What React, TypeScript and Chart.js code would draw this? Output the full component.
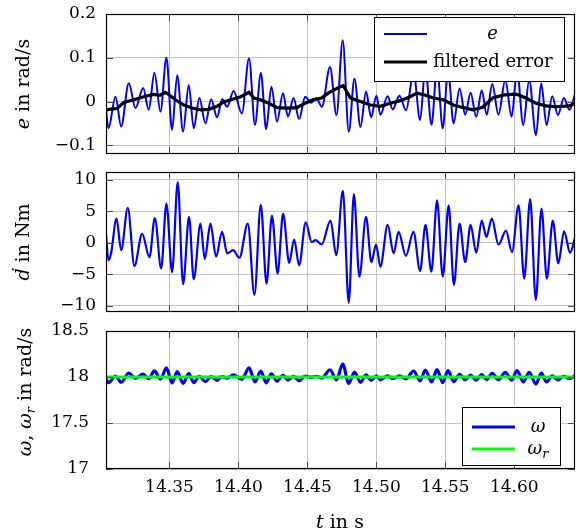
import React, { useEffect, useRef } from 'react';
import { Chart, registerables } from 'chart.js';

Chart.register(...registerables);

// ---------------- data ----------------
const X_MIN = 14.304;
const X_MAX = 14.644;
const xTicks = [14.35, 14.4, 14.45, 14.5, 14.55, 14.6];

// error e (rad/s), extrema
const eTime = [
  14.304, 14.3058, 14.3109, 14.315, 14.3205, 14.3254, 14.3309, 14.335, 14.3391, 14.3435,
  14.3478, 14.3519, 14.3556, 14.3599, 14.364, 14.3676, 14.3717, 14.3761, 14.3802, 14.3845,
  14.3882, 14.3918, 14.3965, 14.4025, 14.4077, 14.412, 14.4163, 14.4201, 14.4239, 14.428,
  14.4323, 14.4359, 14.44, 14.444, 14.4484, 14.4527, 14.4565, 14.4605, 14.4664, 14.4711,
  14.4756, 14.48, 14.4841, 14.4885, 14.4925, 14.4962, 14.5, 14.5029, 14.5082, 14.5118,
  14.5167, 14.5215, 14.527, 14.5317, 14.5355, 14.54, 14.544, 14.5481, 14.552, 14.556,
  14.5603, 14.5644, 14.5683, 14.5724, 14.5764, 14.58, 14.584, 14.5885, 14.5935, 14.598,
  14.602, 14.6065, 14.6108, 14.6157, 14.6195, 14.6234, 14.6275, 14.6316, 14.636, 14.64,
  14.6442,
];
const eVal = [
  -0.02, -0.061, 0.011, -0.057, 0.042, -0.015, 0.031, -0.019, 0.066, -0.023,
  0.1, -0.065, 0.06, -0.069, 0.038, -0.061, 0.008, -0.05, 0.005, -0.036,
  0.005, -0.012, 0.024, -0.027, 0.099, -0.053, 0.065, -0.063, 0.034, -0.046,
  0.019, -0.034, 0.008, -0.04, 0.011, -0.003, 0.008, -0.012, 0.079, -0.031,
  0.14, -0.069, 0.052, -0.058, 0.023, -0.036, 0.013, -0.03, 0.012, -0.018,
  0.013, -0.02, 0.065, -0.042, 0.075, -0.053, 0.08, -0.061, 0.07, -0.05,
  0.03, -0.03, 0.02, -0.035, 0.025, -0.03, 0.04, -0.03, 0.05, -0.035,
  0.07, -0.054, 0.05, -0.077, 0.042, -0.054, 0.012, -0.031, 0.008, -0.019,
  0.019,
];

// filtered error
const fTime = [
  14.304, 14.3085, 14.3121, 14.3169, 14.3241, 14.3314, 14.3387, 14.343, 14.3471, 14.3507,
  14.3543, 14.3604, 14.3664, 14.3725, 14.3785, 14.3846, 14.3894, 14.3957, 14.4017, 14.4077,
  14.4112, 14.416, 14.422, 14.428, 14.4351, 14.4423, 14.4483, 14.4543, 14.4602, 14.465,
  14.4698, 14.4734, 14.476, 14.479, 14.4812, 14.4885, 14.4957, 14.5029, 14.5101, 14.5173,
  14.5245, 14.5293, 14.5353, 14.5413, 14.5486, 14.5558, 14.562, 14.5698, 14.5771, 14.5843,
  14.5928, 14.6012, 14.6085, 14.6157, 14.623, 14.6302, 14.6398, 14.6442,
];
const fVal = [
  -0.019, -0.017, -0.016, -0.002, 0.004, 0.011, 0.016, 0.014, 0.021, 0.013,
  0.004, -0.008, -0.015, -0.019, -0.018, -0.011, -0.001, 0.005, 0.011, 0.021,
  0.008, 0.004, -0.004, -0.014, -0.015, -0.014, -0.004, 0.004, 0.008, 0.019,
  0.027, 0.033, 0.036, 0.02, 0.008, 0.0, -0.008, -0.011, -0.004, 0.002,
  0.011, 0.019, 0.015, 0.008, 0.004, -0.008, -0.013, -0.019, -0.013, 0.008,
  0.015, 0.017, 0.008, -0.004, -0.01, -0.012, -0.01, -0.004,
];

// disturbance d-dot (Nm)
const dTime = [
  14.304, 14.3058, 14.3077, 14.3116, 14.315, 14.3198, 14.3246, 14.3302, 14.3355, 14.3394,
  14.344, 14.3478, 14.3519, 14.356, 14.3599, 14.3642, 14.3676, 14.3725, 14.3756, 14.3797,
  14.3838, 14.3882, 14.3918, 14.3961, 14.4007, 14.4068, 14.4116, 14.4162, 14.4204, 14.4243,
  14.4284, 14.4324, 14.4368, 14.4404, 14.444, 14.4488, 14.4531, 14.456, 14.4603, 14.4668,
  14.4709, 14.4757, 14.48, 14.4837, 14.4877, 14.4925, 14.4964, 14.4998, 14.5029, 14.5082,
  14.5125, 14.5161, 14.5214, 14.5269, 14.5317, 14.5356, 14.5399, 14.544, 14.5481, 14.5524,
  14.5562, 14.5603, 14.5644, 14.5683, 14.5724, 14.5764, 14.5798, 14.5837, 14.5885, 14.594,
  14.5983, 14.6031, 14.6072, 14.6115, 14.6156, 14.6197, 14.6236, 14.6279, 14.6319, 14.6361,
  14.6404, 14.6442,
];
const dVal = [
  1.4, -2.8, -1.7, 3.8, -1.2, 5.5, -3.7, 1.4, -2.3, 3.9,
  -4.1, 6.2, -4.7, 9.6, -6.6, 4.1, -5.8, 3.0, -2.6, 3.0,
  -2.2, 1.7, -1.7, -1.2, -2.4, 3.0, -8.3, 6.0, -6.5, 4.3,
  -4.9, 4.6, -3.2, 0.5, -3.6, 3.2, 0.1, 0.4, -0.3, 3.5,
  -2.0, 8.2, -9.5, 7.7, -5.4, 4.1, -3.1, -0.3, -3.8, 2.8,
  -1.7, 1.7, -2.1, 1.7, -4.5, 2.8, -4.6, 6.7, -5.4, 5.9,
  -6.7, 3.0, -3.1, 2.8, -1.6, 3.5, 0.9, 3.8, -0.3, 1.9,
  -1.5, 5.9, -5.7, 6.9, -9.1, 5.4, -5.7, 3.5, -3.3, 1.8,
  -1.6, 0.9,
];

// omega (rad/s), sampled at the same instants as e
const wTime = eTime;
const wVal = [
  17.98, 17.939, 18.011, 17.943, 18.042, 17.985, 18.031, 17.981, 18.066, 17.977,
  18.1, 17.935, 18.06, 17.931, 18.038, 17.939, 18.008, 17.95, 18.005, 17.964,
  18.005, 17.988, 18.024, 17.973, 18.099, 17.947, 18.065, 17.937, 18.034, 17.954,
  18.019, 17.966, 18.008, 17.96, 18.011, 17.997, 18.008, 17.988, 18.079, 17.969,
  18.14, 17.931, 18.052, 17.942, 18.023, 17.964, 18.013, 17.97, 18.012, 17.982,
  18.013, 17.98, 18.065, 17.958, 18.075, 17.947, 18.08, 17.939, 18.07, 17.95,
  18.03, 17.97, 18.02, 17.965, 18.025, 17.97, 18.04, 17.97, 18.05, 17.965,
  18.07, 17.946, 18.05, 17.923, 18.042, 17.946, 18.012, 17.969, 18.008, 17.981,
  18.019,
];
// reference omega_r
const wrTime = [14.304, 14.644];
const wrVal = [18, 18];

const yTicks1 = [-0.1, 0, 0.1, 0.2];
const yLabels1 = ['\u22120.1', '0', '0.1', '0.2'];
const yTicks2 = [-10, -5, 0, 5, 10];
const yLabels2 = ['\u221210', '\u22125', '0', '5', '10'];
const yTicks3 = [17, 17.5, 18, 18.5];
const yLabels3 = ['17', '17.5', '18', '18.5'];

// ---------------- styling ----------------
const FONT = '"DejaVu Serif", serif';
const FS = 17;
const TS = 19;
const LS = 18;
const GRID = '#c4c4c4';
const BLUE = '#0000ff';
const GREEN = '#00ff00';

const pts = (t: number[], v: number[]) => t.map((x, i) => ({ x, y: v[i] }));

type Run = { t: string; it?: boolean; sub?: boolean };

function drawRuns(ctx: CanvasRenderingContext2D, runs: Run[], cx: number, cy: number, rot: boolean, size: number) {
  ctx.save();
  ctx.translate(cx, cy);
  if (rot) ctx.rotate(-Math.PI / 2);
  ctx.textBaseline = 'alphabetic';
  ctx.textAlign = 'left';
  ctx.fillStyle = '#000';
  const fontFor = (r: Run) => `${r.it ? 'italic ' : ''}${r.sub ? Math.round(size * 0.7) : size}px ${FONT}`;
  let total = 0;
  for (const r of runs) {
    ctx.font = fontFor(r);
    total += ctx.measureText(r.t).width;
  }
  let x = -total / 2;
  const base = size * 0.36;
  for (const r of runs) {
    ctx.font = fontFor(r);
    ctx.fillText(r.t, x, base + (r.sub ? size * 0.22 : 0));
    x += ctx.measureText(r.t).width;
  }
  ctx.restore();
}

function drawFrame(chart: any) {
  const { ctx, chartArea: a, scales } = chart;
  ctx.save();
  ctx.strokeStyle = '#4a4a4a';
  ctx.lineWidth = 1;
  const TL = 7;
  ctx.beginPath();
  for (const t of scales.y.ticks) {
    const p = Math.round(scales.y.getPixelForValue(t.value)) + 0.5;
    ctx.moveTo(a.left, p);
    ctx.lineTo(a.left + TL, p);
    ctx.moveTo(a.right, p);
    ctx.lineTo(a.right - TL, p);
  }
  for (const t of scales.x.ticks) {
    const p = Math.round(scales.x.getPixelForValue(t.value)) + 0.5;
    ctx.moveTo(p, a.top);
    ctx.lineTo(p, a.top + TL);
    ctx.moveTo(p, a.bottom);
    ctx.lineTo(p, a.bottom - TL);
  }
  ctx.stroke();
  ctx.strokeStyle = '#000';
  ctx.lineWidth = 1.2;
  ctx.strokeRect(Math.round(a.left) + 0.5, Math.round(a.top) + 0.5, Math.round(a.right - a.left) - 1, Math.round(a.bottom - a.top) - 1);
  ctx.restore();
}

function legendLine(ctx: CanvasRenderingContext2D, x0: number, x1: number, y: number, color: string, w: number) {
  ctx.save();
  ctx.strokeStyle = color;
  ctx.lineWidth = w;
  ctx.beginPath();
  ctx.moveTo(x0, y);
  ctx.lineTo(x1, y);
  ctx.stroke();
  ctx.restore();
}

function legendBox(ctx: CanvasRenderingContext2D, x: number, y: number, w: number, h: number) {
  ctx.save();
  ctx.fillStyle = '#fff';
  ctx.fillRect(x, y, w, h);
  ctx.strokeStyle = '#000';
  ctx.lineWidth = 1;
  ctx.strokeRect(x + 0.5, y + 0.5, w - 1, h - 1);
  ctx.restore();
}

function noPad(s: any) {
  s.paddingTop = 0;
  s.paddingBottom = 0;
  s.paddingLeft = 0;
  s.paddingRight = 0;
}

function yAxis(min: number, max: number, ticks: number[], labels: string[], pad: number) {
  return {
    type: 'linear',
    min,
    max,
    afterBuildTicks: (s: any) => {
      s.ticks = ticks.map((v) => ({ value: v }));
    },
    afterFit: (s: any) => {
      s.width = 106;
      noPad(s);
    },
    ticks: {
      autoSkip: false,
      padding: pad,
      color: '#000',
      font: { family: FONT, size: FS },
      callback: (_v: any, i: number) => labels[i],
    },
    grid: { color: GRID, lineWidth: 1, drawTicks: false },
    border: { display: false },
  };
}

function xAxis(show: boolean) {
  return {
    type: 'linear',
    min: X_MIN,
    max: X_MAX,
    afterBuildTicks: (s: any) => {
      s.ticks = xTicks.map((v) => ({ value: v }));
    },
    afterFit: (s: any) => {
      s.height = show ? 62 : 0;
      noPad(s);
    },
    ticks: {
      display: show,
      autoSkip: false,
      maxRotation: 0,
      padding: 8,
      color: '#000',
      font: { family: FONT, size: FS },
      callback: (v: any) => Number(v).toFixed(2),
    },
    grid: { color: GRID, lineWidth: 1, drawTicks: false },
    border: { display: false },
  };
}

function baseOptions(padding: any, scales: any) {
  return {
    responsive: false,
    animation: false,
    devicePixelRatio: 1,
    layout: { padding },
    events: [],
    plugins: { legend: { display: false }, tooltip: { enabled: false } },
    scales,
  };
}

function config1(): any {
  return {
    type: 'line',
    data: {
      datasets: [
        { label: 'filtered error', data: pts(fTime, fVal), borderColor: '#000', borderWidth: 3.2, pointRadius: 0, tension: 0, clip: 0 },
        { label: 'e', data: pts(eTime, eVal), borderColor: BLUE, borderWidth: 2, pointRadius: 0, cubicInterpolationMode: 'monotone', clip: 0 },
      ],
    },
    options: baseOptions({ top: 14, bottom: 11, left: 0, right: 1 }, {
      x: xAxis(false),
      y: yAxis(-0.12, 0.2, yTicks1, yLabels1, 10),
    }),
    plugins: [
      {
        id: 'deco1',
        afterDatasetsDraw(chart: any) {
          const ctx = chart.ctx;
          drawFrame(chart);
          drawRuns(ctx, [{ t: 'e', it: true }, { t: ' in rad/s' }], 22, 84, true, TS);
          legendBox(ctx, 374, 17, 191, 65);
          legendLine(ctx, 384, 427, 34, BLUE, 1.8);
          drawRuns(ctx, [{ t: 'e', it: true }], 492.5, 33, false, LS);
          legendLine(ctx, 384, 427, 62, '#000', 3);
          drawRuns(ctx, [{ t: 'filtered error' }], 493, 61, false, LS);
        },
      },
    ],
  };
}

function config2(): any {
  return {
    type: 'line',
    data: {
      datasets: [
        { label: 'd', data: pts(dTime, dVal), borderColor: BLUE, borderWidth: 2.2, pointRadius: 0, cubicInterpolationMode: 'monotone', clip: 0 },
      ],
    },
    options: baseOptions({ top: 7, bottom: 3, left: 0, right: 1 }, {
      x: xAxis(false),
      y: yAxis(-11, 11.2, yTicks2, yLabels2, 10),
    }),
    plugins: [
      {
        id: 'deco2',
        afterDatasetsDraw(chart: any) {
          drawFrame(chart);
          drawRuns(chart.ctx, [{ t: '\u1E0B', it: true }, { t: ' in Nm' }], 22, 77, true, TS);
        },
      },
    ],
  };
}

function config3(): any {
  return {
    type: 'line',
    data: {
      datasets: [
        { label: '\u03c9r', data: pts(wrTime, wrVal), borderColor: GREEN, borderWidth: 3, pointRadius: 0, tension: 0, clip: 0 },
        { label: '\u03c9', data: pts(wTime, wVal), borderColor: BLUE, borderWidth: 3.2, pointRadius: 0, cubicInterpolationMode: 'monotone', clip: 0 },
      ],
    },
    options: baseOptions({ top: 16, bottom: 0, left: 0, right: 1 }, {
      x: xAxis(true),
      y: yAxis(17, 18.5, yTicks3, yLabels3, 17),
    }),
    plugins: [
      {
        id: 'deco3',
        afterDatasetsDraw(chart: any) {
          const ctx = chart.ctx;
          drawFrame(chart);
          drawRuns(ctx, [{ t: '\u03c9', it: true }, { t: ', ' }, { t: '\u03c9', it: true }, { t: 'r', it: true, sub: true }, { t: ' in rad/s' }], 24, 77, true, TS);
          drawRuns(ctx, [{ t: 't', it: true }, { t: ' in s' }], 340, 206, false, TS);
          legendBox(ctx, 462, 92, 99, 59);
          legendLine(ctx, 472, 515, 112, BLUE, 3);
          drawRuns(ctx, [{ t: '\u03c9', it: true }], 538, 111, false, LS);
          legendLine(ctx, 472, 515, 134, GREEN, 3);
          drawRuns(ctx, [{ t: '\u03c9', it: true }, { t: 'r', it: true, sub: true }], 538, 133, false, LS);
        },
      },
    ],
  };
}

function Panel({ top, height, make }: { top: number; height: number; make: () => any }) {
  const ref = useRef<HTMLCanvasElement | null>(null);
  useEffect(() => {
    if (!ref.current) return;
    const chart = new Chart(ref.current, make());
    return () => chart.destroy();
  }, []);
  return (
    <canvas
      ref={ref}
      width={576}
      height={height}
      style={{ position: 'absolute', left: 0, top, width: 576, height, display: 'block' }}
    />
  );
}

export default function App() {
  return (
    <div style={{ position: 'absolute', left: 0, top: 0, width: 576, height: 531, background: '#fff', overflow: 'hidden' }}>
      <Panel top={0} height={165} make={config1} />
      <Panel top={165} height={150} make={config2} />
      <Panel top={315} height={216} make={config3} />
    </div>
  );
}
